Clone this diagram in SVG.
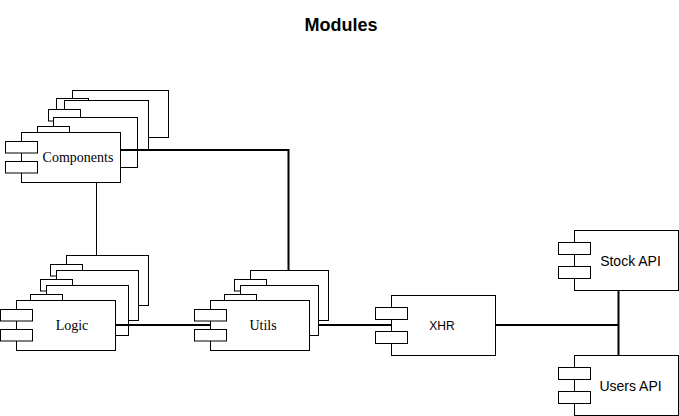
<svg xmlns="http://www.w3.org/2000/svg" width="679" height="416" viewBox="0 0 679 416">
<style>
.b{fill:#fff;stroke:#000;stroke-width:1}
.c{fill:none;stroke:#000;stroke-width:2}
.c1{fill:none;stroke:#000;stroke-width:1}
.ser{font-family:"Liberation Serif","Times New Roman",serif;font-size:14px;fill:#000}
.san{font-family:"Liberation Sans",Arial,sans-serif;fill:#000}
</style>
<rect x="0" y="0" width="679" height="416" fill="#fff"/>
<text x="341" y="31" text-anchor="middle" class="san" font-size="18" font-weight="bold">Modules</text>

<g id="connectors">
<path class="c1" d="M96.5,182 V255"/>
<path class="c" d="M120,150 H288.5 V270"/>
<path class="c" d="M116,325 H210"/>
<path class="c" d="M318,325 H391"/>
<path class="c" d="M496,325 H618.5"/>
<path class="c" d="M618.5,290 V355"/>
</g>

<g id="components">
<rect class="b" x="72.5" y="90.5" width="96" height="47"/>
<rect class="b" x="56.5" y="98.5" width="32" height="11.5"/>
<rect class="b" x="56.5" y="118.5" width="32" height="11.5"/>
<rect class="b" x="64.5" y="100.5" width="84" height="49"/>
<rect class="b" x="48.5" y="109.5" width="32" height="11.5"/>
<rect class="b" x="48.5" y="129.5" width="32" height="11.5"/>
<rect class="b" x="53.5" y="117.5" width="84" height="50"/>
<rect class="b" x="37.5" y="126.5" width="32" height="11.5"/>
<rect class="b" x="37.5" y="146.5" width="32" height="11.5"/>
<path class="c" d="M120,150 H150"/>
<rect class="b" x="21.5" y="132.5" width="99" height="50"/>
<rect class="b" x="5.5" y="141.5" width="32" height="11.5"/>
<rect class="b" x="5.5" y="161.5" width="32" height="11.5"/>
<text x="78" y="157" text-anchor="middle" dominant-baseline="central" class="ser">Components</text>
</g>

<g id="logic">
<rect class="b" x="66.5" y="255.5" width="82" height="50"/>
<rect class="b" x="50.5" y="264.5" width="32" height="11.5"/>
<rect class="b" x="50.5" y="284.5" width="32" height="11.5"/>
<rect class="b" x="56.5" y="270.5" width="82" height="50"/>
<rect class="b" x="40.5" y="279.5" width="32" height="11.5"/>
<rect class="b" x="40.5" y="299.5" width="32" height="11.5"/>
<rect class="b" x="46.5" y="285.5" width="82" height="50"/>
<rect class="b" x="30.5" y="294.5" width="32" height="11.5"/>
<rect class="b" x="30.5" y="314.5" width="32" height="11.5"/>
<path class="c" d="M116,325 H130"/>
<rect class="b" x="16.5" y="300.5" width="99" height="50"/>
<rect class="b" x="0.5" y="309.5" width="32" height="11.5"/>
<rect class="b" x="0.5" y="329.5" width="32" height="11.5"/>
<text x="72" y="325" text-anchor="middle" dominant-baseline="central" class="ser">Logic</text>
</g>

<g id="utils">
<rect class="b" x="250.5" y="270.5" width="78" height="50"/>
<rect class="b" x="234.5" y="279.5" width="32" height="11.5"/>
<rect class="b" x="234.5" y="299.5" width="32" height="11.5"/>
<rect class="b" x="240.5" y="285.5" width="78" height="50"/>
<rect class="b" x="224.5" y="294.5" width="32" height="11.5"/>
<rect class="b" x="224.5" y="314.5" width="32" height="11.5"/>
<path class="c" d="M318,325 H330"/>
<rect class="b" x="210.5" y="300.5" width="99" height="50"/>
<path class="c" d="M194,325 H210"/>
<rect class="b" x="194.5" y="309.5" width="32" height="11.5"/>
<rect class="b" x="194.5" y="329.5" width="32" height="11.5"/>
<text x="263" y="325" text-anchor="middle" dominant-baseline="central" class="ser">Utils</text>
</g>

<g id="xhr">
<rect class="b" x="391.5" y="295.5" width="104" height="60"/>
<rect class="b" x="375.5" y="307.5" width="32" height="12"/>
<rect class="b" x="375.5" y="331.5" width="32" height="12"/>
<text x="442" y="326" text-anchor="middle" dominant-baseline="central" class="san" font-size="12">XHR</text>
</g>

<g id="stock-api">
<rect class="b" x="574.5" y="230.5" width="104" height="60"/>
<rect class="b" x="558.5" y="242.5" width="32" height="12"/>
<rect class="b" x="558.5" y="266.5" width="32" height="12"/>
<text x="630.5" y="261" text-anchor="middle" dominant-baseline="central" class="san" font-size="14">Stock API</text>
</g>

<g id="users-api">
<rect class="b" x="574.5" y="355.5" width="104" height="60"/>
<rect class="b" x="558.5" y="367.5" width="32" height="12"/>
<rect class="b" x="558.5" y="391.5" width="32" height="12"/>
<text x="630.5" y="386" text-anchor="middle" dominant-baseline="central" class="san" font-size="14">Users API</text>
</g>
</svg>
